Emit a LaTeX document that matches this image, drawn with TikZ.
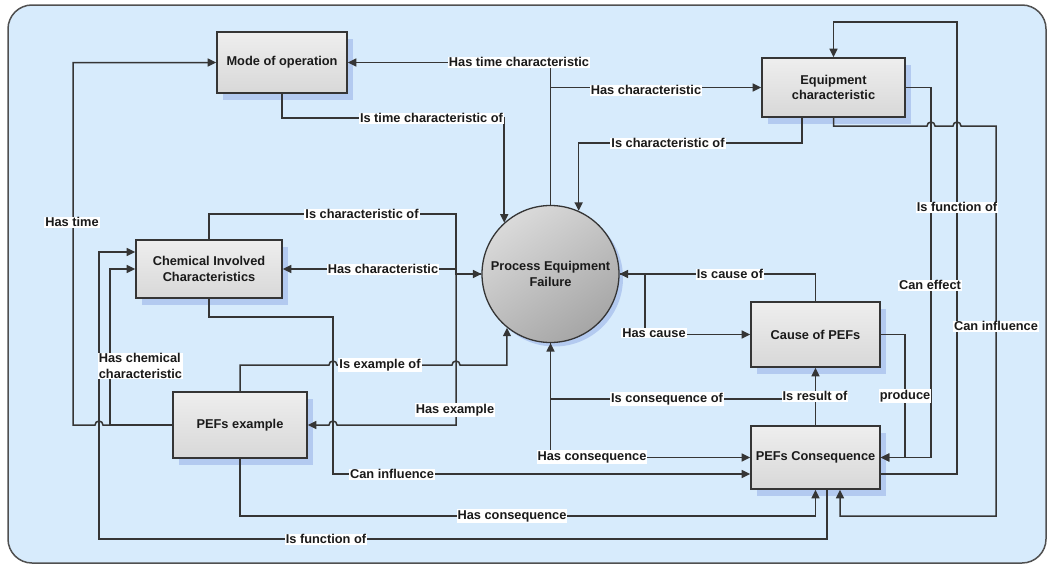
\documentclass[tikz,border=0pt]{standalone}
\usepackage{fontspec}
\setmainfont{Liberation Sans}
\usetikzlibrary{arrows.meta,shadows}

\definecolor{panel}{HTML}{D7EBFC}
\definecolor{panelline}{HTML}{505050}
\definecolor{wirec}{HTML}{353535}
\definecolor{boxtop}{HTML}{EEEEEE}
\definecolor{boxbot}{HTML}{D8D8D8}
\definecolor{boxline}{HTML}{353535}
\definecolor{shade}{HTML}{B3CAF0}
\definecolor{balltop}{HTML}{DADADA}
\definecolor{ballbot}{HTML}{A6A6A6}
\definecolor{ink}{HTML}{1A1A1A}

\begin{document}
\begin{tikzpicture}[x=1pt,y=-1pt,
  font=\fontsize{12.8}{15.5}\selectfont\bfseries,
  box/.style={draw=boxline, line width=1.6pt, top color=boxtop, bottom color=boxbot,
    align=center, text=ink, inner sep=2pt,
    general shadow={fill=shade, shadow xshift=6pt, shadow yshift=-7pt}},
  ball/.style={circle, draw=boxline, line width=1.3pt, top color=balltop, bottom color=ballbot,
    shading angle=35, align=center, text=ink, inner sep=0pt,
    general shadow={fill=shade, shadow xshift=4pt, shadow yshift=-4pt}},
  wire/.style={draw=wirec, line width=1.5pt},
  arr/.style={wire, -{Triangle[length=8.5pt,width=8pt]}},
  tag/.style={fill=white, text=ink, inner xsep=1pt, inner ysep=0.8pt},
]
\useasboundingbox (0,0) rectangle (1049,565);
\fill[white] (0,0) rectangle (1049,565);
\draw[draw=panelline, fill=panel, line width=1.5pt, rounded corners=24pt] (8,5) rectangle (1046,563);

% concepts
\node[box, minimum width=130pt, minimum height=61pt] (mode) at (282,62.5) {Mode of operation};
\node[box, minimum width=143pt, minimum height=59pt] (eqc) at (833.5,87.5) {Equipment\\characteristic};
\node[box, minimum width=146pt, minimum height=58pt] (chem) at (209,269) {Chemical Involved\\Characteristics};
\node[ball, minimum size=137pt] (pef) at (550.5,274) {Process Equipment\\Failure};
\node[box, minimum width=129pt, minimum height=65pt] (cause) at (815.5,334.5) {Cause of PEFs};
\node[box, minimum width=134pt, minimum height=66pt] (pefex) at (240,425) {PEFs example};
\node[box, minimum width=129pt, minimum height=63pt] (pefc) at (815.5,457.5) {PEFs Consequence};

% routing rows and columns
\coordinate (r118) at (0,118);
\coordinate (r143) at (0,143);
\coordinate (r365) at (0,365);
\coordinate (r399) at (0,399);
\coordinate (r474) at (0,474);
\coordinate (r516) at (0,516);
\coordinate (r539) at (0,539);
\coordinate (r252) at (0,252);
\coordinate (r22) at (0,22);
\coordinate (c645) at (645,0);
\coordinate (c905) at (905,0);
\coordinate (c931) at (931,0);
\coordinate (c957) at (957,0);
\coordinate (c840) at (840,0);
\coordinate (c827) at (827,0);
\coordinate (c802) at (802,0);
\coordinate (c110) at (110,0);
\coordinate (c99) at (99,0);

% relations around the failure node
\draw[arr] (pef.north) |- (mode.east);
\draw[arr] (pef.north) |- (eqc.west);
\draw[arr] (mode.south) |- (pef.132 |- r118) -- (pef.132);
\draw[arr] (c802 |- eqc.south) |- (pef.66 |- r143) -- (pef.66);
\draw[arr] (chem.north) |- (456,214) |- (pef.west);
\draw[arr] (pef.west) -| (456,269) -- (chem.east);
\draw[arr] (pef.west) -- (456,274) -- (456,425) -- (337,425)
  arc[start angle=0, end angle=180, radius=4pt] -- (pefex.east);
\draw[arr] (pefex.north) |- (329,365)
  arc[start angle=180, end angle=0, radius=4pt] -- (452,365)
  arc[start angle=180, end angle=0, radius=4pt] -- (pef.231 |- r365) -- (pef.231);
\draw[arr] (chem.south) |- (333,317) -- (333,474) -- (pefc.west |- r474);
\draw[arr] (pef.south) |- (pefc.west);
\draw[arr] (pefc.north) |- (pef.south |- r399) -- (pef.south);
\draw[arr] (pefc.north) -- (cause.south);
\draw[arr] (cause.north) |- (pef.east);
\draw[arr] (pef.east) -| (c645 |- cause.west) -- (cause.west);

% right-hand loops
\draw[arr] (cause.east) -| (c905 |- pefc.east) -- (pefc.east);
\draw[arr] (eqc.east) -| (c931 |- pefc.east) -- (pefc.east);
\draw[arr] (pefc.east |- r474) -| (c957 |- r22) -| (eqc.north);
\draw[arr] (eqc.south) |- (927,126)
  arc[start angle=180, end angle=0, radius=4pt] -- (953,126)
  arc[start angle=180, end angle=0, radius=4pt] -- (996,126) |- (840,516) -- (c840 |- pefc.south);

% left and bottom loops
\draw[arr] (pefex.south) |- (pefc.south |- r516) -- (pefc.south);
\draw[arr] (c827 |- pefc.south) |- (c99 |- r539) |- (chem.west |- r252);
\draw[arr] (pefex.west) -- (103,425)
  arc[start angle=0, end angle=180, radius=4pt] -- (73,425) |- (mode.west);
\draw[arr] (pefex.west) -| (c110 |- chem.west) -- (chem.west);

% relation names
\node[tag] (l1) at (519,62) {Has time characteristic};
\node[tag] (l2) at (646,90) {Has characteristic};
\node[tag] (l3) at (431.5,118) {Is time characteristic of};
\node[tag] (l4) at (668,143) {Is characteristic of};
\node[tag] (l5) at (362,214) {Is characteristic of};
\node[tag] (l6) at (383,269) {Has characteristic};
\node[tag] (l7) at (455,410) {Has example};
\node[tag] (l8) at (380,365) {Is example of};
\node[tag] (l9) at (392,474) {Can influence};
\node[tag] (l10) at (592,457) {Has consequence};
\node[tag] (l11) at (667,399) {Is consequence of};
\node[tag] (l12) at (815,396) {Is result of};
\node[tag] (l13) at (730,274) {Is cause of};
\node[tag] (l14) at (654,333) {Has cause};
\node[tag] (l15) at (905,396) {produce};
\node[tag] (l16) at (930,285) {Can effect};
\node[tag] (l17) at (957,207) {Is function of};
\node[tag] (l18) at (996,326) {Can influence};
\node[tag] (l19) at (512,516) {Has consequence};
\node[tag] (l20) at (326,539) {Is function of};
\node[tag] (l21) at (72,222) {Has time};
\node[tag, align=left] (l22) at (140.5,366) {Has chemical\\characteristic};
\end{tikzpicture}
\end{document}
